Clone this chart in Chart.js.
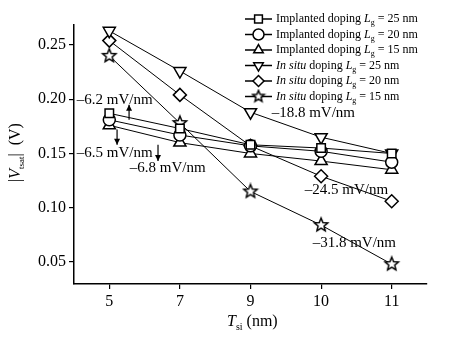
<!DOCTYPE html>
<html>
<head>
<meta charset="utf-8">
<script src="https://cdn.jsdelivr.net/npm/chart.js@4"></script>
<style>
  body { margin: 0; background: #fff; }
  #wrap { width: 459px; height: 337px; }
</style>
</head>
<body>
<div id="wrap"><canvas id="vtchart" width="459" height="337"></canvas></div>
<script>
// Tsi (nm) categories
let thickness = ['5', '7', '9', '10', '11'];

// |Vt| (V) per doping case
let impl25 = [0.187, 0.173, 0.158, 0.155, 0.150];
let impl20 = [0.181, 0.167, 0.157, 0.152, 0.142];
let impl15 = [0.176, 0.160, 0.150, 0.143, 0.135];
let situ25 = [0.263, 0.226, 0.188, 0.165, 0.150];
let situ20 = [0.254, 0.204, 0.157, 0.129, 0.106];
let situ15 = [0.240, 0.178, 0.115, 0.084, 0.048];

let yTicks = [0.05, 0.10, 0.15, 0.20, 0.25];

// legend text: prefix, Lg value
let legendPrefix = ['Implanted', 'Implanted', 'Implanted', 'In situ', 'In situ', 'In situ'];
let legendLg = ['25', '20', '15', '25', '20', '15'];

// slope labels, placed in data coords (category index, value)
let slopeText = ['\u20136.2 mV/nm', '\u20136.5 mV/nm', '\u20136.8 mV/nm', '\u201318.8 mV/nm', '\u201324.5 mV/nm', '\u201331.8 mV/nm'];
let slopeX = [-0.46, -0.46, 0.29, 2.30, 2.77, 2.88];
let slopeY = [0.199, 0.150, 0.137, 0.187, 0.116, 0.067];

const SERIF = '"Liberation Serif", "DejaVu Serif", serif';

// five point star outline for the Lg = 15 nm in situ curve
function makeStar(r) {
  let c = document.createElement('canvas');
  let s = Math.ceil(r * 2 + 4);
  c.width = s; c.height = s;
  let g = c.getContext('2d');
  g.beginPath();
  for (let i = 0; i < 10; i++) {
    let rr = i % 2 ? r * 0.45 : r;
    let a = -Math.PI / 2 + i * Math.PI / 5;
    let px = s / 2 + rr * Math.cos(a), py = s / 2 + rr * Math.sin(a);
    if (i == 0) g.moveTo(px, py); else g.lineTo(px, py);
  }
  g.closePath();
  g.fillStyle = '#fff';
  g.fill();
  g.lineWidth = 1.5;
  g.strokeStyle = '#000';
  g.stroke();
  return c;
}
let starBig = makeStar(7);
let starSmall = makeStar(6);

function series(data, style, rot, size) {
  return {
    data: data,
    borderColor: '#000',
    borderWidth: 1,
    backgroundColor: '#fff',
    pointStyle: style,
    pointRotation: rot,
    pointRadius: size || 6,
    pointBorderWidth: 1.5,
    pointBorderColor: '#000',
    pointBackgroundColor: '#fff',
    tension: 0,
    legendStyle: style
  };
}

let ctx = document.getElementById('vtchart').getContext('2d');

// legend, slope labels, arrows and axis titles
let extras = {
  id: 'extras',
  afterDraw(chart) {
    let c = chart.ctx;
    let xs = chart.scales.x, ys = chart.scales.y;
    c.save();
    c.fillStyle = '#000';
    c.strokeStyle = '#000';

    // slope labels
    c.font = '15px ' + SERIF;
    c.textBaseline = 'middle';
    c.textAlign = 'left';
    slopeText.forEach((t, i) => {
      c.fillText(t, xs.getPixelForValue(slopeX[i]), ys.getPixelForValue(slopeY[i]));
    });

    // arrows
    let arrows = [[0.28, 0.181, 0.195], [0.11, 0.172, 0.158], [0.69, 0.158, 0.143]];
    c.lineWidth = 1.2;
    arrows.forEach(a => {
      let x = xs.getPixelForValue(a[0]);
      let y0 = ys.getPixelForValue(a[1]), y1 = ys.getPixelForValue(a[2]);
      let d = y1 < y0 ? 1 : -1;
      c.beginPath(); c.moveTo(x, y0); c.lineTo(x, y1); c.stroke();
      c.beginPath(); c.moveTo(x, y1); c.lineTo(x - 3, y1 + d * 6); c.lineTo(x + 3, y1 + d * 6); c.closePath(); c.fill();
    });

    // legend
    chart.data.datasets.forEach((ds, i) => {
      let y = 19 + i * 15.5;
      c.lineWidth = 1.5;
      c.beginPath(); c.moveTo(245, y); c.lineTo(272, y); c.stroke();
      c.fillStyle = '#fff';
      Chart.helpers.drawPoint(c, {
        pointStyle: ds.legendStyle, rotation: ds.pointRotation, radius: 5.5, borderWidth: 1.5
      }, 258.5, y);
      c.fillStyle = '#000';
      let x = 276;
      c.textBaseline = 'middle';
      let italic = legendPrefix[i] == 'In situ';
      c.font = (italic ? 'italic ' : '') + '12px ' + SERIF;
      c.fillText(legendPrefix[i], x, y);
      x += c.measureText(legendPrefix[i]).width;
      c.font = '12px ' + SERIF;
      c.fillText(' doping ', x, y);
      x += c.measureText(' doping ').width;
      c.font = 'italic 12px ' + SERIF;
      c.fillText('L', x, y);
      x += c.measureText('L').width;
      c.font = '8px ' + SERIF;
      c.fillText('g', x, y + 4);
      x += c.measureText('g').width;
      c.font = '12px ' + SERIF;
      c.fillText(' = ' + legendLg[i] + ' nm', x, y);
    });

    // x title: Tsi (nm)
    c.textBaseline = 'alphabetic';
    let tx = 227, ty = 326;
    c.font = 'italic 16px ' + SERIF;
    c.fillText('T', tx, ty);
    tx += c.measureText('T').width;
    c.font = '10px ' + SERIF;
    c.fillText('si', tx, ty + 4);
    tx += c.measureText('si').width + 4;
    c.font = '16px ' + SERIF;
    c.fillText('(nm)', tx, ty);

    // y title: |Vtsat| (V)
    c.translate(20, 182);
    c.rotate(-Math.PI / 2);
    let px = 0;
    c.font = '16px ' + SERIF;
    c.fillText('|', px, 0);
    px += c.measureText('|').width;
    c.font = 'italic 16px ' + SERIF;
    c.fillText('V', px, 0);
    px += c.measureText('V').width;
    c.font = '9px ' + SERIF;
    c.fillText('tsat', px, 4);
    px += c.measureText('tsat').width;
    c.font = '16px ' + SERIF;
    c.fillText('|  (V)', px, 0);
    c.restore();
  }
};

let star15 = series(situ15, starBig, 0);
star15.legendStyle = starSmall;

new Chart(ctx, {
  type: 'line',
  data: {
    labels: thickness,
    datasets: [
      series(impl25, 'rect', 0),
      series(impl20, 'circle', 0),
      series(impl15, 'triangle', 0, 7),
      series(situ25, 'triangle', 180, 7),
      series(situ20, 'rectRot', 0, 6.5),
      star15
    ]
  },
  options: {
    responsive: false,
    animation: false,
    layout: { padding: { left: 0, top: 25, right: 32, bottom: 0 } },
    plugins: { legend: { display: false }, tooltip: { enabled: false } },
    scales: {
      x: {
        type: 'category',
        offset: true,
        border: { color: '#000', width: 1.5 },
        grid: { drawOnChartArea: false, drawTicks: true, tickLength: 5, color: '#000', lineWidth: 1.2 },
        ticks: { color: '#000', font: { family: SERIF, size: 16 }, padding: 3 },
        afterFit(s) { s.height = 53; }
      },
      y: {
        min: 0.0297,
        max: 0.2684,
        border: { color: '#000', width: 1.5 },
        grid: { drawOnChartArea: false, drawTicks: true, tickLength: 5, color: '#000', lineWidth: 1.2 },
        ticks: { color: '#000', font: { family: SERIF, size: 16 }, padding: 3, callback: v => v.toFixed(2) },
        afterBuildTicks(s) { s.ticks = yTicks.map(v => ({ value: v })); },
        afterFit(s) { s.width = 74; }
      }
    }
  },
  plugins: [extras]
});
</script>
</body>
</html>
